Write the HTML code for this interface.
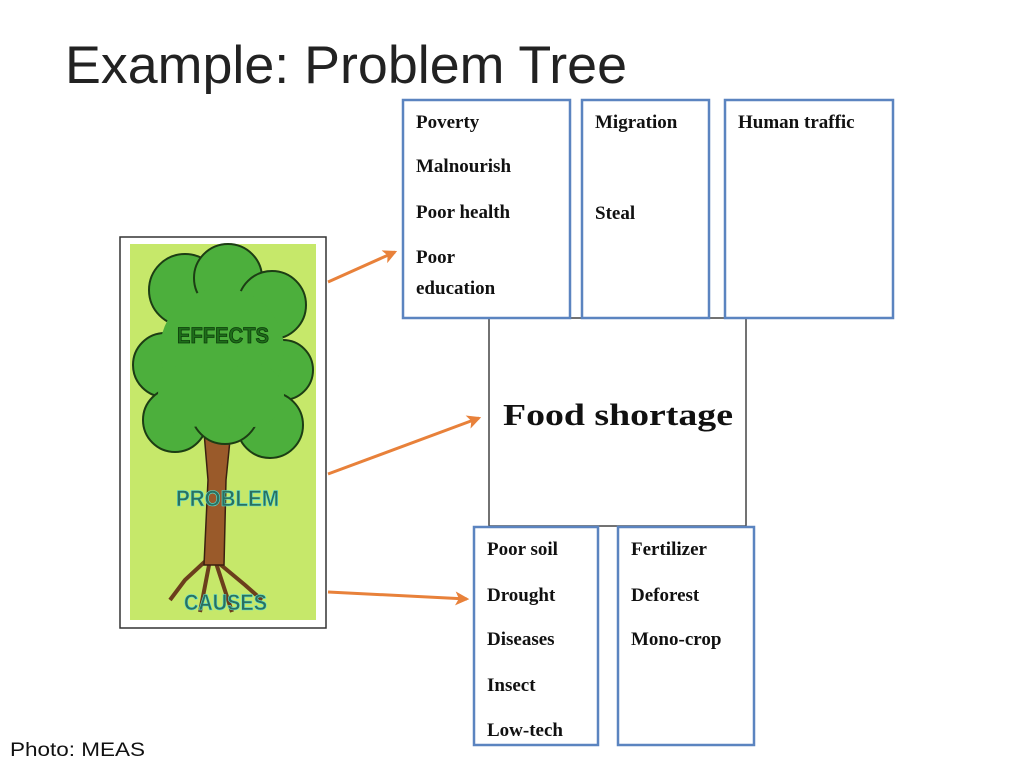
<!DOCTYPE html>
<html><head><meta charset="utf-8"><style>
html,body{margin:0;padding:0;background:#fff;}
svg{display:block}
.t{font-family:"Liberation Serif",serif;font-weight:bold;font-size:19px;fill:#111}
</style></head><body>
<svg width="1024" height="768" viewBox="0 0 1024 768" xmlns="http://www.w3.org/2000/svg">
<defs>
<marker id="ah" markerWidth="14" markerHeight="14" refX="10" refY="6" orient="auto" markerUnits="userSpaceOnUse" viewBox="0 0 12 12">
<path d="M0,0 L12,6 L0,12 L3,6 Z" fill="#e8813a"/>
</marker>
</defs>
<text x="65" y="83" font-family="Liberation Sans, sans-serif" font-size="53" fill="#222" textLength="562" lengthAdjust="spacingAndGlyphs">Example: Problem Tree</text>

<!-- tree image -->
<rect x="120" y="237" width="206" height="391" fill="#fff" stroke="#333" stroke-width="1.5"/>
<rect x="130" y="244" width="186" height="376" fill="#c6e86a"/>
<path d="M212,555 L185,580 L170,600 M210,560 L200,612 M215,560 L245,585 L262,600 M215,560 L232,612" stroke="#6b3e1c" stroke-width="4" fill="none"/>
<path d="M203,420 L232,420 L226,480 L224,565 L204,565 L208,480 Z" fill="#9a5a2a" stroke="#3a2010" stroke-width="1.5"/>
<g fill="#4caf3c" stroke="#1c3d14" stroke-width="2">
<circle cx="185" cy="290" r="36"/><circle cx="228" cy="278" r="34"/><circle cx="272" cy="305" r="34"/>
<circle cx="165" cy="365" r="32"/><circle cx="283" cy="370" r="30"/><circle cx="175" cy="420" r="32"/>
<circle cx="270" cy="425" r="33"/><circle cx="225" cy="410" r="34"/>
</g>
<g fill="#4caf3c"><circle cx="222" cy="350" r="62"/><circle cx="190" cy="395" r="32"/><circle cx="252" cy="395" r="32"/></g>
<text x="177" y="343" font-family="Liberation Sans, sans-serif" font-weight="bold" font-size="22" fill="#1e6d1a" stroke="#0c3a0a" stroke-width="0.8" textLength="92" lengthAdjust="spacingAndGlyphs">EFFECTS</text>
<text x="176" y="506" font-family="Liberation Sans, sans-serif" font-weight="bold" font-size="22" fill="#2a7060" stroke="#5ee0d0" stroke-width="0.6" textLength="103" lengthAdjust="spacingAndGlyphs">PROBLEM</text>
<text x="184" y="610" font-family="Liberation Sans, sans-serif" font-weight="bold" font-size="22" fill="#2a7060" stroke="#5ee0d0" stroke-width="0.6" textLength="83" lengthAdjust="spacingAndGlyphs">CAUSES</text>

<!-- arrows -->
<line x1="328" y1="282" x2="395" y2="252" stroke="#e8813a" stroke-width="3" marker-end="url(#ah)"/>
<line x1="328" y1="474" x2="479" y2="418" stroke="#e8813a" stroke-width="3" marker-end="url(#ah)"/>
<line x1="328" y1="592" x2="467" y2="599" stroke="#e8813a" stroke-width="3" marker-end="url(#ah)"/>

<!-- center -->
<rect x="489" y="318" width="257" height="208" fill="#fff" stroke="#444" stroke-width="1.5"/>
<text x="503" y="425" font-family="Liberation Serif, serif" font-weight="bold" font-size="31" fill="#111" textLength="230" lengthAdjust="spacingAndGlyphs">Food shortage</text>

<!-- boxes -->
<g fill="#fff" stroke="#5b84c0" stroke-width="2.5">
<rect x="403" y="100" width="167" height="218"/>
<rect x="582" y="100" width="127" height="218"/>
<rect x="725" y="100" width="168" height="218"/>
<rect x="474" y="527" width="124" height="218"/>
<rect x="618" y="527" width="136" height="218"/>
</g>
<text class="t" x="416" y="128">Poverty</text>
<text class="t" x="416" y="172">Malnourish</text>
<text class="t" x="416" y="218">Poor health</text>
<text class="t" x="416" y="263">Poor</text>
<text class="t" x="416" y="294">education</text>
<text class="t" x="595" y="128">Migration</text>
<text class="t" x="595" y="219">Steal</text>
<text class="t" x="738" y="128">Human traffic</text>
<text class="t" x="487" y="555">Poor soil</text>
<text class="t" x="487" y="601">Drought</text>
<text class="t" x="487" y="645">Diseases</text>
<text class="t" x="487" y="691">Insect</text>
<text class="t" x="487" y="736">Low-tech</text>
<text class="t" x="631" y="555">Fertilizer</text>
<text class="t" x="631" y="601">Deforest</text>
<text class="t" x="631" y="645">Mono-crop</text>

<text x="10" y="756" font-family="Liberation Sans, sans-serif" font-size="19" fill="#111" textLength="135" lengthAdjust="spacingAndGlyphs">Photo: MEAS</text>
</svg>
</body></html>
